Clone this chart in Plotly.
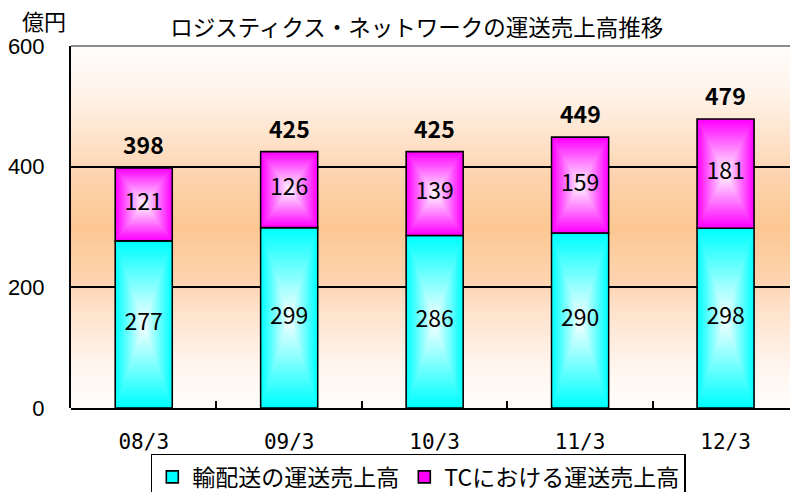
import plotly.graph_objects as go

# ---- data ----
categories = ["08/3", "09/3", "10/3", "11/3", "12/3"]
delivery = [277, 299, 286, 290, 298]      # 輸配送の運送売上高
tc_sales = [121, 126, 139, 159, 181]      # TCにおける運送売上高
totals = [398, 425, 425, 449, 479]
y_ticks = [0, 200, 400, 600]
grid_vals = [200, 400]
series_names = ["輸配送の運送売上高", "TCにおける運送売上高"]
title_text = "ロジスティクス・ネットワークの運送売上高推移"
unit_text = "億円"

CJK = "Noto Sans CJK JP"

fig = go.Figure()

# ---- background gradient (white - orange - white) ----
bg_levels = list(range(-30, 640, 10))
bg_scale = [
    [0.00, "#fffdfb"], [0.12, "#fff5ee"], [0.25, "#fee5d1"], [0.36, "#fdd3ae"],
    [0.50, "#fcc792"], [0.64, "#fdd3ae"], [0.75, "#fee3cc"], [0.88, "#fff4ec"],
    [1.00, "#fffdfb"],
]
fig.add_trace(go.Heatmap(
    x=[-1, 2], y=bg_levels, z=[[v, v] for v in bg_levels], zmin=0, zmax=600,
    colorscale=bg_scale, showscale=False, zsmooth="best", hoverinfo="skip",
    xaxis="x", yaxis="y"))

# ---- gradient bars (rectangular "from centre" gradient) ----
W = 0.392
N = 26

def blend(rgb, t):
    return "rgb(%d,%d,%d)" % tuple(round(255 - (255 - c) * t) for c in rgb)

segments = [
    (delivery, [0] * len(delivery), (0, 255, 255), series_names[0]),
    (tc_sales, delivery, (255, 0, 255), series_names[1]),
]
for vals, bases0, rgb, name in segments:
    for k in range(N):
        t = 1 - k / N
        heights = [h * t for h in vals]
        bases = [b + h * (1 - t) / 2 for b, h in zip(bases0, vals)]
        fig.add_trace(go.Bar(
            x=categories, y=heights, base=bases, width=W * t,
            marker=dict(color=blend(rgb, t),
                        line=dict(color="black", width=1.6 if k == 0 else 0)),
            name=name, showlegend=(k == 0), legendgroup=name,
            hoverinfo="skip", xaxis="x2", yaxis="y2"))

# ---- segment labels ----
mid_del = [h / 2 for h in delivery]
mid_tc = [d + h / 2 for d, h in zip(delivery, tc_sales)]
fig.add_trace(go.Scatter(
    x=categories + categories, y=mid_del + mid_tc,
    text=[str(v) for v in delivery + tc_sales], mode="text",
    textfont=dict(family=CJK, size=23, color="black"),
    showlegend=False, hoverinfo="skip", xaxis="x2", yaxis="y2"))

annotations = []
for c, tot in zip(categories, totals):
    annotations.append(dict(
        x=c, y=tot, xref="x2", yref="y2", text="<b>%d</b>" % tot,
        showarrow=False, yanchor="bottom", yshift=5,
        font=dict(family=CJK, size=23, color="black")))
annotations.append(dict(
    x=-0.0376, y=1.073, xref="paper", yref="paper", text=unit_text,
    showarrow=False, xanchor="center", yanchor="middle",
    font=dict(family=CJK, size=22, color="black")))

fig.update_layout(
    width=791, height=492,
    margin=dict(l=71, r=1, t=46, b=84, autoexpand=False),
    paper_bgcolor="white", plot_bgcolor="rgba(0,0,0,0)",
    barmode="overlay",
    title=dict(text=title_text, x=0.481, xref="paper", xanchor="center",
               y=1 - 28 / 492, yref="container", yanchor="middle",
               font=dict(family=CJK, size=22.5, color="black")),
    xaxis=dict(domain=[0, 1], range=[0, 1], anchor="y",
               showline=False, showticklabels=False, showgrid=False,
               zeroline=False, ticks="", fixedrange=True),
    yaxis=dict(domain=[0, 1], range=[0, 600], tickvals=y_ticks, anchor="x",
               showgrid=False, zeroline=False, showline=True,
               linecolor="black", linewidth=2, ticks="",
               tickfont=dict(family="Liberation Sans", size=22, color="black"),
               ticklabelstandoff=20, fixedrange=True),
    xaxis2=dict(domain=[0, 1], anchor="y2", type="category",
                range=[-0.5, 4.443], ticks="inside", tickson="boundaries",
                ticklen=7, tickwidth=1.5, tickcolor="black",
                showline=True, linecolor="black", linewidth=2,
                showgrid=False, zeroline=False,
                tickfont=dict(family="DejaVu Sans Mono", size=21, color="black"),
                ticklabelstandoff=14, fixedrange=True),
    yaxis2=dict(domain=[0, 1], anchor="x2", range=[0, 600], tickvals=grid_vals,
                showgrid=True, gridcolor="black", gridwidth=1.5,
                showticklabels=False, zeroline=False, ticks="", showline=False,
                fixedrange=True),
    legend=dict(orientation="h", x=0.111, xanchor="left", y=-0.127,
                yanchor="top", bordercolor="black", borderwidth=1.5,
                bgcolor="white", itemwidth=30, traceorder="normal",
                font=dict(family=CJK, size=23, color="black")),
    annotations=annotations,
    shapes=[dict(type="line", xref="paper", yref="paper", x0=0, x1=1, y0=1, y1=1,
                 line=dict(color="#8a8a8a", width=2), layer="above")],
)

fig.write_html("out.html", config={"displayModeBar": False},
               post_script="document.body.style.margin='0';document.body.style.padding='0';")
